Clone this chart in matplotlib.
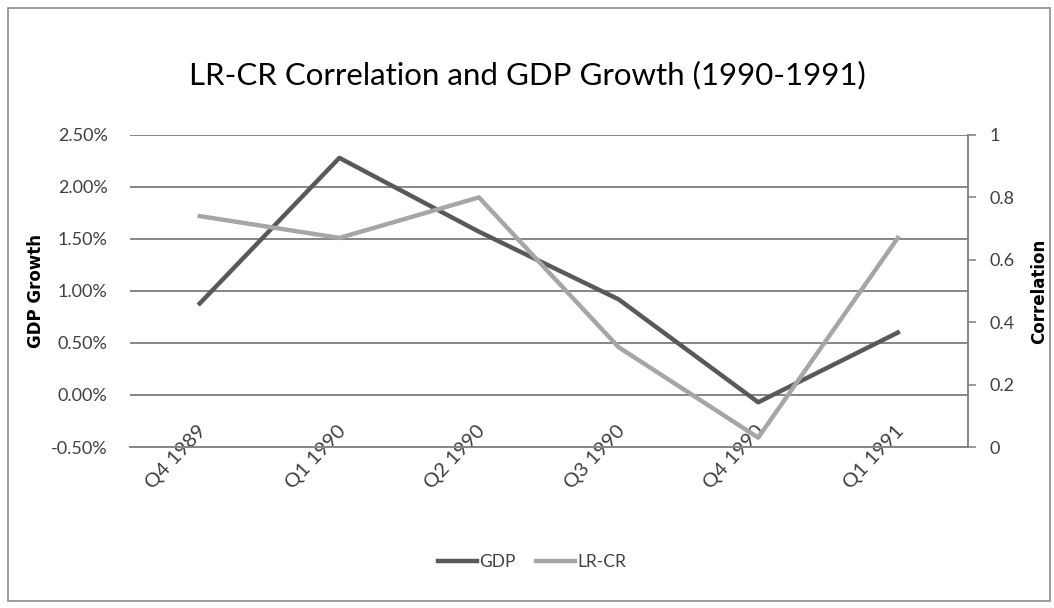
import matplotlib.pyplot as plt
import matplotlib.transforms as mtransforms
from matplotlib.patches import Rectangle
from matplotlib.ticker import FuncFormatter

quarters = ['Q4 1989', 'Q1 1990', 'Q2 1990', 'Q3 1990', 'Q4 1990', 'Q1 1991']
gdp_growth = [0.88, 2.28, 1.57, 0.92, -0.07, 0.60]   # percent
lr_cr_corr = [0.74, 0.67, 0.80, 0.32, 0.03, 0.67]

gdp_ticks = [-0.5, 0.0, 0.5, 1.0, 1.5, 2.0, 2.5]
corr_ticks = [0, 0.2, 0.4, 0.6, 0.8, 1]

plt.rcParams['font.family'] = ['Lato', 'DejaVu Sans']
txt = '#404040'

fig = plt.figure(figsize=(10.54, 6.08), dpi=100)
fig.patches.append(Rectangle((0.008, 0.012), 0.988, 0.975, transform=fig.transFigure,
                             fill=False, edgecolor='#8c8c8c', linewidth=1.2))

ax = fig.add_axes([0.1233, 0.2648, 0.7947, 0.5132])
x = list(range(len(quarters)))
l1, = ax.plot(x, gdp_growth, color='#595959', linewidth=3.2, label='GDP', zorder=3)
ax.set_xlim(-0.5, len(quarters) - 0.5)
ax.set_ylim(-0.5, 2.5)
ax.set_yticks(gdp_ticks)
ax.yaxis.set_major_formatter(FuncFormatter(lambda v, p: f'{v:.2f}%'))
ax.grid(axis='y', color='#868686', linewidth=1.4)
ax.set_axisbelow(True)
for s in ['top', 'left', 'right']:
    ax.spines[s].set_visible(False)
ax.spines['bottom'].set_color('#868686')
ax.spines['bottom'].set_linewidth(1.4)
ax.tick_params(axis='y', length=0, pad=16, labelsize=13, labelcolor=txt)
ax.tick_params(axis='x', length=0, labelsize=14.5, labelcolor=txt)
ax.set_xticks(x)
ax.set_xticklabels(quarters, rotation=47, ha='right', va='top', rotation_mode='anchor')
shift = mtransforms.ScaledTranslation(-0.03, 0.3, fig.dpi_scale_trans)
for lab in ax.get_xticklabels():
    lab.set_transform(lab.get_transform() + shift)
ax.set_ylabel('GDP Growth', fontsize=12, fontweight='bold', color='black',
              family=['DejaVu Sans'])
ax.yaxis.set_label_coords(-0.1015, 0.5)

ax2 = ax.twinx()
l2, = ax2.plot(x, lr_cr_corr, color='#a6a6a6', linewidth=3.2, label='LR-CR', zorder=3)
ax2.set_ylim(0, 1)
ax2.set_yticks(corr_ticks)
ax2.set_yticklabels(['0', '0.2', '0.4', '0.6', '0.8', '1'])
for s in ['top', 'left', 'bottom']:
    ax2.spines[s].set_visible(False)
ax2.spines['right'].set_color('#868686')
ax2.spines['right'].set_linewidth(1.4)
ax2.tick_params(axis='y', length=6, width=1.2, color='#868686', direction='out',
                pad=10, labelsize=13, labelcolor=txt)
ax2.set_ylabel('Correlation', fontsize=12, fontweight='bold', color='black',
               family=['DejaVu Sans'])
ax2.yaxis.set_label_coords(1.0745, 0.5)

fig.text(0.5, 0.877, 'LR-CR Correlation and GDP Growth (1990-1991)', ha='center',
         va='center', fontsize=22.5, color='black')

fig.legend(handles=[l1, l2], loc='center', bbox_to_anchor=(0.505, 0.075), ncol=2,
           frameon=False, fontsize=12.5, handlelength=2.2, columnspacing=1.2,
           handletextpad=0.15, labelcolor=txt)

fig.savefig('out.png', dpi=100)
